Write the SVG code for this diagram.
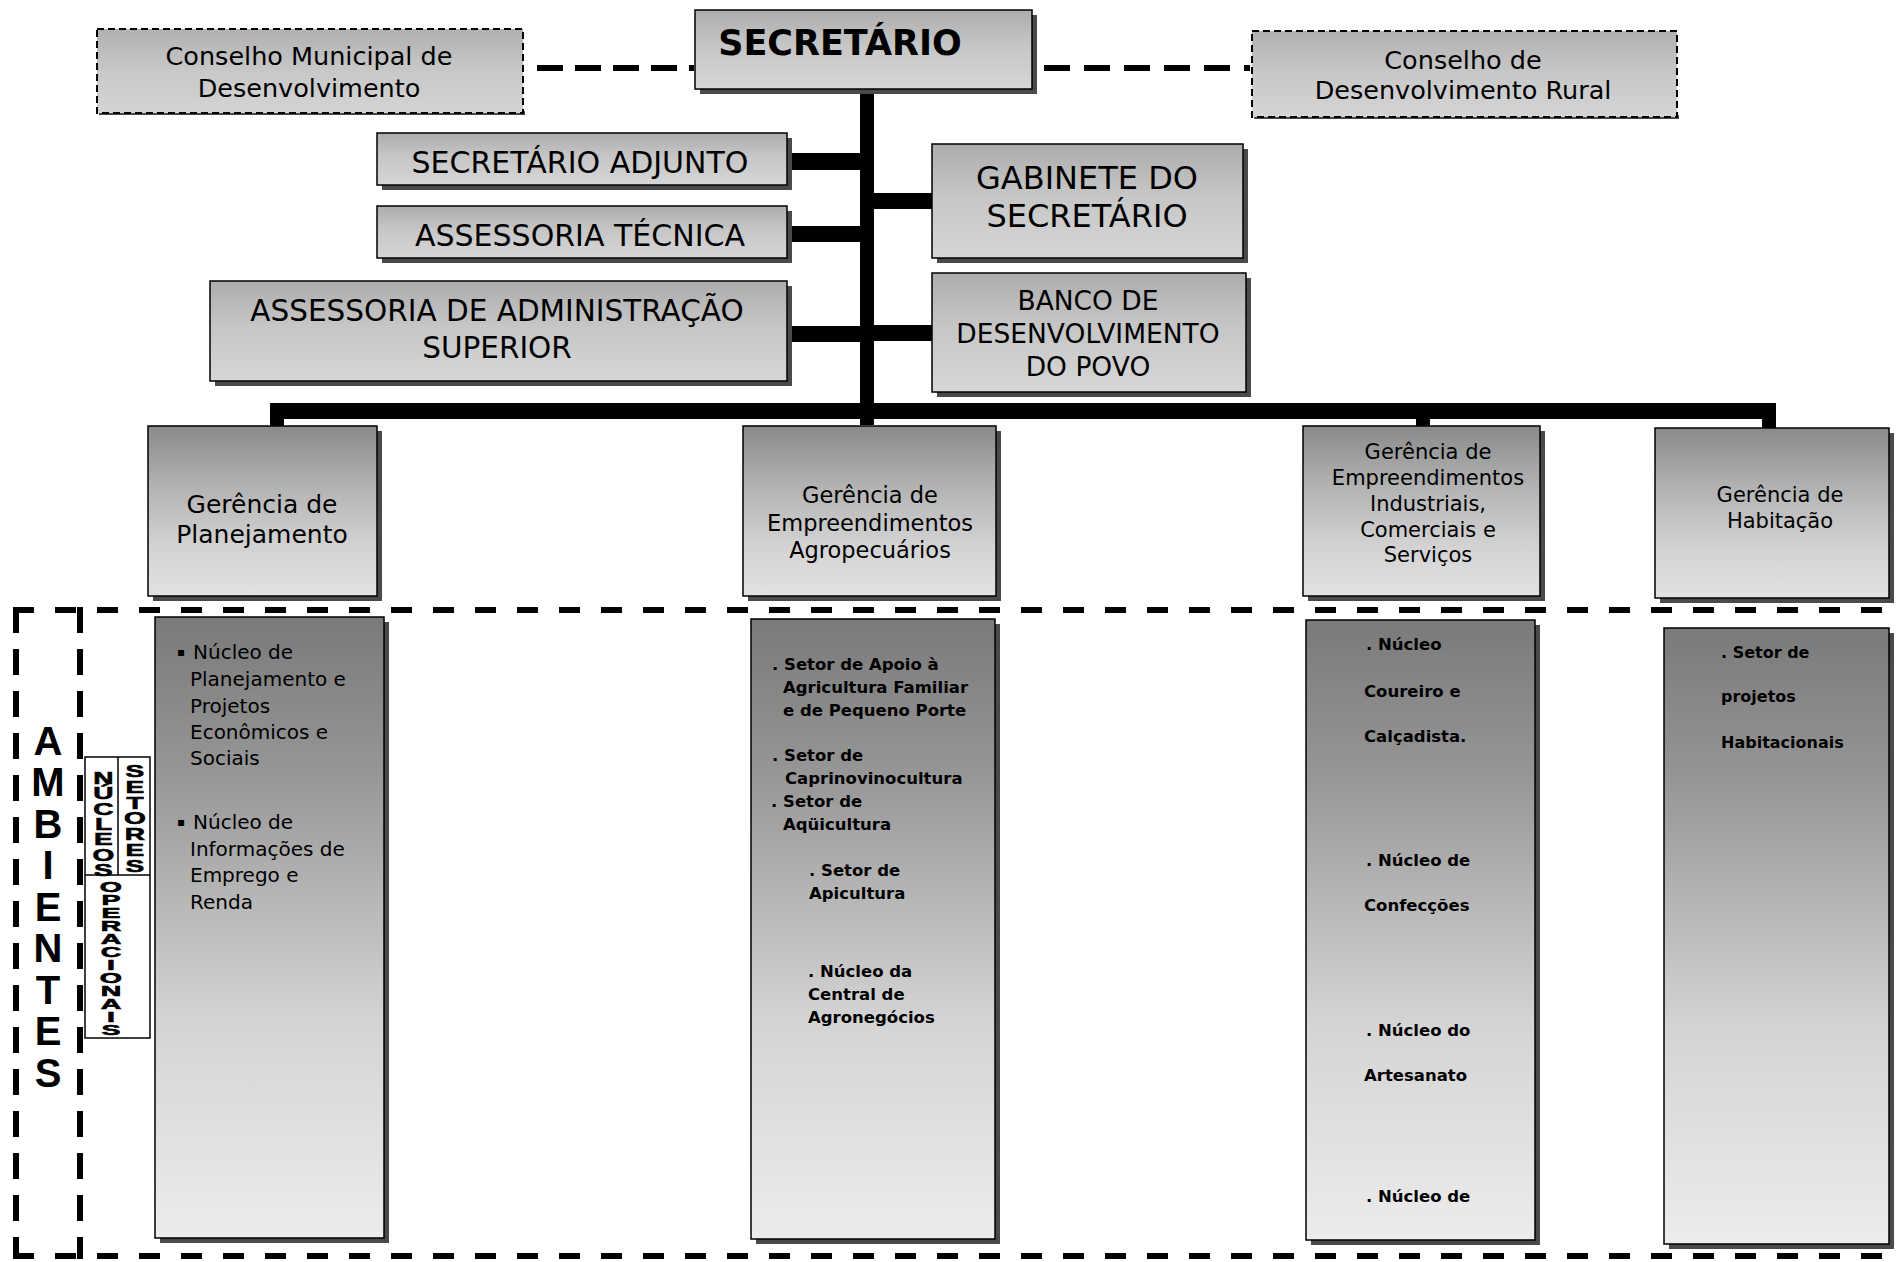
<svg xmlns="http://www.w3.org/2000/svg" width="1900" height="1262" viewBox="0 0 1900 1262">
<defs>
  <linearGradient id="gTop" x1="0" y1="0" x2="0" y2="1">
    <stop offset="0" stop-color="#acacac"/>
    <stop offset="0.45" stop-color="#c6c6c6"/>
    <stop offset="1" stop-color="#d6d6d6"/>
  </linearGradient>
  <linearGradient id="gCons" x1="0" y1="0" x2="0" y2="1">
    <stop offset="0" stop-color="#b0b0b0"/>
    <stop offset="0.5" stop-color="#c8c8c8"/>
    <stop offset="1" stop-color="#d4d4d4"/>
  </linearGradient>
  <linearGradient id="gL2" x1="0" y1="0" x2="0" y2="1">
    <stop offset="0" stop-color="#8a8a8a"/>
    <stop offset="0.35" stop-color="#b2b2b2"/>
    <stop offset="0.7" stop-color="#d2d2d2"/>
    <stop offset="1" stop-color="#e2e2e2"/>
  </linearGradient>
  <linearGradient id="gL3" x1="0" y1="0" x2="0" y2="1">
    <stop offset="0" stop-color="#7a7a7a"/>
    <stop offset="0.25" stop-color="#969696"/>
    <stop offset="0.45" stop-color="#b6b6b6"/>
    <stop offset="0.65" stop-color="#d4d4d4"/>
    <stop offset="1" stop-color="#ececec"/>
  </linearGradient>
</defs>
<style>
  .box { stroke:#000; stroke-width:1.5; }
  .top { fill:url(#gTop); }
  .cons { fill:url(#gCons); stroke:#000; stroke-width:2; stroke-dasharray:7 4; }
  .l2 { fill:url(#gL2); }
  .l3 { fill:url(#gL3); }
  .sh { fill:#4a4a4a; }
  .t { font-family:"DejaVu Sans", Verdana, sans-serif; fill:#000; }
  .c { text-anchor:middle; }
  .b { font-weight:bold; }
  .bul { font-size:12px; }
  .bar { fill:#000; }
  .dash { stroke:#000; stroke-width:6; fill:none; }
  .h { stroke-dasharray:21 21; }
  .v { stroke-dasharray:26 16; }
  .big { font-family:"Liberation Sans", Arial, sans-serif; font-weight:bold; font-size:40px; text-anchor:middle; }
  .stk { font-family:"Liberation Sans", Arial, sans-serif; font-weight:bold; text-anchor:middle; stroke:#000; stroke-width:0.6; }
</style>
<rect width="1900" height="1262" fill="#fff"/>

<g id="connectors">
  <line class="dash" x1="537" y1="68" x2="694" y2="68" stroke-dasharray="26 12"/>
  <line class="dash" x1="1044" y1="68" x2="1250" y2="68" stroke-dasharray="26 14"/>
  <rect class="bar" x="860" y="89" width="14" height="336"/>
  <rect class="bar" x="788" y="153" width="72" height="17"/>
  <rect class="bar" x="788" y="226" width="72" height="16"/>
  <rect class="bar" x="788" y="326" width="72" height="16"/>
  <rect class="bar" x="874" y="193" width="58" height="16"/>
  <rect class="bar" x="874" y="325" width="58" height="16"/>
  <rect class="bar" x="270" y="403" width="1506" height="16"/>
  <rect class="bar" x="270" y="403" width="14" height="23"/>
  <rect class="bar" x="1416" y="403" width="14" height="23"/>
  <rect class="bar" x="1762" y="403" width="14" height="25"/>
</g>

<g id="ambientes">
  <line class="dash h" x1="13" y1="610" x2="1900" y2="610"/>
  <line class="dash h" x1="13" y1="1256" x2="1900" y2="1256"/>
  <line class="dash v" x1="16" y1="607" x2="16" y2="1259"/>
  <line class="dash v" x1="80" y1="607" x2="80" y2="1259"/>
  <text class="big" x="48"><tspan x="48" y="755">A</tspan><tspan x="48" y="796">M</tspan><tspan x="48" y="838">B</tspan><tspan x="48" y="879">I</tspan><tspan x="48" y="921">E</tspan><tspan x="48" y="962">N</tspan><tspan x="48" y="1004">T</tspan><tspan x="48" y="1045">E</tspan><tspan x="48" y="1087">S</tspan></text>
</g>

<g id="n-legenda">
  <rect x="85" y="757" width="65" height="281" fill="#fff" stroke="#000" stroke-width="1.5"/>
  <line x1="85" y1="875" x2="150" y2="875" stroke="#000" stroke-width="1.5"/>
  <line x1="118" y1="757" x2="118" y2="875" stroke="#000" stroke-width="1.5"/>
  <g transform="scale(1.65,1)">
    <text class="stk" font-size="17"><tspan x="62.7" y="784">N</tspan><tspan x="62.7" y="799">Ú</tspan><tspan x="62.7" y="815">C</tspan><tspan x="62.7" y="830">L</tspan><tspan x="62.7" y="845">E</tspan><tspan x="62.7" y="861">O</tspan><tspan x="62.7" y="876">S</tspan></text>
    <text class="stk" font-size="17"><tspan x="81.8" y="777">S</tspan><tspan x="81.8" y="793">E</tspan><tspan x="81.8" y="809">T</tspan><tspan x="81.8" y="824">O</tspan><tspan x="81.8" y="840">R</tspan><tspan x="81.8" y="856">E</tspan><tspan x="81.8" y="872">S</tspan></text>
  </g>
  <g transform="scale(1.9,1)">
    <text class="stk" font-size="15"><tspan x="58.4" y="892">O</tspan><tspan x="58.4" y="905">P</tspan><tspan x="58.4" y="918">E</tspan><tspan x="58.4" y="931">R</tspan><tspan x="58.4" y="944">A</tspan><tspan x="58.4" y="957">C</tspan><tspan x="58.4" y="970">I</tspan><tspan x="58.4" y="983">O</tspan><tspan x="58.4" y="996">N</tspan><tspan x="58.4" y="1009">A</tspan><tspan x="58.4" y="1022">I</tspan><tspan x="58.4" y="1035">S</tspan></text>
  </g>
</g>

<g id="n-conselho-municipal">
  <rect class="sh" x="99" y="111" width="426" height="4"/>
  <rect class="cons" x="97" y="29" width="426" height="84"/>
  <text class="t c" font-size="25.5"><tspan x="309" y="65">Conselho Municipal de</tspan><tspan x="309" y="97">Desenvolvimento</tspan></text>
</g>

<g id="n-secretario">
  <rect class="sh" x="700" y="15" width="337" height="79"/>
  <rect class="box top" x="695" y="10" width="337" height="79"/>
  <text class="t c b" x="840" y="55" font-size="35">SECRETÁRIO</text>
</g>

<g id="n-conselho-rural">
  <rect class="sh" x="1254" y="115" width="425" height="4"/>
  <rect class="cons" x="1252" y="31" width="425" height="86"/>
  <text class="t c" font-size="25.5"><tspan x="1463" y="69">Conselho de</tspan><tspan x="1463" y="99">Desenvolvimento Rural</tspan></text>
</g>

<g id="n-secretario-adjunto">
  <rect class="sh" x="382" y="138" width="410" height="52"/>
  <rect class="box top" x="377" y="133" width="410" height="52"/>
  <text class="t c" x="580" y="173" font-size="30">SECRETÁRIO ADJUNTO</text>
</g>

<g id="n-assessoria-tecnica">
  <rect class="sh" x="382" y="211" width="410" height="52"/>
  <rect class="box top" x="377" y="206" width="410" height="52"/>
  <text class="t c" x="580" y="246" font-size="30">ASSESSORIA TÉCNICA</text>
</g>

<g id="n-assessoria-adm">
  <rect class="sh" x="215" y="286" width="577" height="100"/>
  <rect class="box top" x="210" y="281" width="577" height="100"/>
  <text class="t c" font-size="29.5"><tspan x="497" y="321">ASSESSORIA DE ADMINISTRAÇÃO</tspan><tspan x="497" y="358">SUPERIOR</tspan></text>
</g>

<g id="n-gabinete">
  <rect class="sh" x="937" y="149" width="311" height="114"/>
  <rect class="box top" x="932" y="144" width="311" height="114"/>
  <text class="t c" font-size="32"><tspan x="1087" y="189">GABINETE DO</tspan><tspan x="1087" y="227">SECRETÁRIO</tspan></text>
</g>

<g id="n-banco">
  <rect class="sh" x="937" y="278" width="314" height="119"/>
  <rect class="box top" x="932" y="273" width="314" height="119"/>
  <text class="t c" font-size="26.5"><tspan x="1088" y="310">BANCO DE</tspan><tspan x="1088" y="343">DESENVOLVIMENTO</tspan><tspan x="1088" y="376">DO POVO</tspan></text>
</g>

<g id="n-ger-planejamento">
  <rect class="sh" x="153" y="431" width="229" height="170"/>
  <rect class="box l2" x="148" y="426" width="229" height="170"/>
  <text class="t c" font-size="25"><tspan x="262" y="513">Gerência de</tspan><tspan x="262" y="543">Planejamento</tspan></text>
</g>

<g id="n-ger-agropecuarios">
  <rect class="sh" x="748" y="431" width="253" height="170"/>
  <rect class="box l2" x="743" y="426" width="253" height="170"/>
  <text class="t c" font-size="22.5"><tspan x="870" y="503">Gerência de</tspan><tspan x="870" y="531">Empreendimentos</tspan><tspan x="870" y="558">Agropecuários</tspan></text>
</g>

<g id="n-ger-industriais">
  <rect class="sh" x="1308" y="431" width="237" height="170"/>
  <rect class="box l2" x="1303" y="426" width="237" height="170"/>
  <text class="t c" font-size="21"><tspan x="1428" y="459">Gerência de</tspan><tspan x="1428" y="485">Empreendimentos</tspan><tspan x="1428" y="511">Industriais,</tspan><tspan x="1428" y="537">Comerciais e</tspan><tspan x="1428" y="562">Serviços</tspan></text>
</g>

<g id="n-ger-habitacao">
  <rect class="sh" x="1660" y="433" width="234" height="170"/>
  <rect class="box l2" x="1655" y="428" width="234" height="170"/>
  <text class="t c" font-size="21"><tspan x="1780" y="502">Gerência de</tspan><tspan x="1780" y="528">Habitação</tspan></text>
</g>

<g id="n-amb-planejamento">
  <rect class="sh" x="160" y="622" width="229" height="621"/>
  <rect class="box l3" x="155" y="617" width="229" height="621"/>
  <text class="t" font-size="20">
    <tspan class="bul" x="177" y="656">▪</tspan><tspan x="193" y="659">Núcleo de</tspan>
    <tspan x="190" y="686">Planejamento e</tspan>
    <tspan x="190" y="713">Projetos</tspan>
    <tspan x="190" y="739">Econômicos e</tspan>
    <tspan x="190" y="765">Sociais</tspan>
    <tspan class="bul" x="177" y="826">▪</tspan><tspan x="193" y="829">Núcleo de</tspan>
    <tspan x="190" y="856">Informações de</tspan>
    <tspan x="190" y="882">Emprego e</tspan>
    <tspan x="190" y="909">Renda</tspan>
  </text>
</g>

<g id="n-amb-agropecuarios">
  <rect class="sh" x="756" y="624" width="244" height="620"/>
  <rect class="box l3" x="751" y="619" width="244" height="620"/>
  <text class="t b" font-size="16.5">
    <tspan x="772" y="670">. Setor de Apoio à</tspan>
    <tspan x="783" y="693">Agricultura Familiar</tspan>
    <tspan x="783" y="716">e de Pequeno Porte</tspan>
    <tspan x="772" y="761">. Setor de</tspan>
    <tspan x="785" y="784">Caprinovinocultura</tspan>
    <tspan x="771" y="807">. Setor de</tspan>
    <tspan x="783" y="830">Aqüicultura</tspan>
    <tspan x="809" y="876">. Setor de</tspan>
    <tspan x="809" y="899">Apicultura</tspan>
    <tspan x="808" y="977">. Núcleo da</tspan>
    <tspan x="808" y="1000">Central de</tspan>
    <tspan x="808" y="1023">Agronegócios</tspan>
  </text>
</g>

<g id="n-amb-industriais">
  <rect class="sh" x="1311" y="625" width="229" height="620"/>
  <rect class="box l3" x="1306" y="620" width="229" height="620"/>
  <text class="t b" font-size="16.5">
    <tspan x="1366" y="650">. Núcleo</tspan>
    <tspan x="1364" y="697">Coureiro  e</tspan>
    <tspan x="1364" y="742">Calçadista.</tspan>
    <tspan x="1366" y="866">. Núcleo de</tspan>
    <tspan x="1364" y="911">Confecções</tspan>
    <tspan x="1366" y="1036">. Núcleo do</tspan>
    <tspan x="1364" y="1081">Artesanato</tspan>
    <tspan x="1366" y="1202">. Núcleo de</tspan>
  </text>
</g>

<g id="n-amb-habitacao">
  <rect class="sh" x="1669" y="633" width="225" height="616"/>
  <rect class="box l3" x="1664" y="628" width="225" height="616"/>
  <text class="t b" font-size="16">
    <tspan x="1721" y="658">. Setor de</tspan>
    <tspan x="1721" y="702">projetos</tspan>
    <tspan x="1721" y="748">Habitacionais</tspan>
  </text>
</g>
</svg>
